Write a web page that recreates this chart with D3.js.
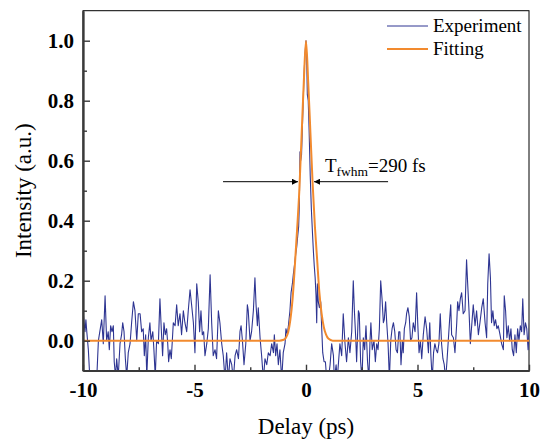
<!DOCTYPE html>
<html>
<head>
<meta charset="utf-8">
<script src="https://cdn.jsdelivr.net/npm/d3@7"></script>
<style>
  body { margin: 0; background: #fff; }
  svg { display: block; font-family: "Liberation Serif", "Times New Roman", serif; }
</style>
</head>
<body>
<div id="chart"></div>
<script>
// measured autocorrelation trace, [delay (ps), intensity (a.u.)]
const experiment = [
  [-10.0,0.10],[-9.95,0.06],[-9.91,0.03],[-9.87,0.07],[-9.83,0.03],[-9.76,-0.03],[-9.69,-0.13],[-9.55,-0.13],
  [-9.46,-0.12],[-9.38,-0.12],[-9.31,0.00],[-9.16,0.07],[-9.09,-0.01],[-9.01,0.15],[-8.94,0.00],[-8.87,0.03],
  [-8.82,-0.03],[-8.76,0.05],[-8.70,0.03],[-8.64,0.05],[-8.60,-0.07],[-8.54,-0.12],[-8.49,-0.06],[-8.42,-0.12],
  [-8.34,-0.01],[-8.27,0.02],[-8.22,0.06],[-8.16,0.03],[-8.10,-0.06],[-8.04,-0.12],[-7.97,-0.04],[-7.89,-0.01],
  [-7.82,0.06],[-7.74,0.13],[-7.67,0.10],[-7.59,0.00],[-7.52,0.09],[-7.44,0.09],[-7.37,0.03],[-7.30,0.04],
  [-7.25,-0.05],[-7.19,0.02],[-7.14,-0.12],[-7.07,0.01],[-7.00,0.06],[-6.95,0.00],[-6.87,0.03],[-6.82,-0.03],
  [-6.76,-0.12],[-6.70,0.00],[-6.62,-0.01],[-6.55,0.14],[-6.49,0.04],[-6.43,-0.05],[-6.37,0.06],[-6.31,0.02],
  [-6.25,0.04],[-6.20,-0.01],[-6.16,-0.07],[-6.10,-0.03],[-6.04,-0.06],[-5.95,0.06],[-5.87,0.05],[-5.80,0.12],
  [-5.73,0.05],[-5.65,0.09],[-5.58,0.02],[-5.50,0.10],[-5.43,0.06],[-5.35,0.03],[-5.28,0.10],[-5.20,0.17],
  [-5.13,0.12],[-5.05,0.06],[-4.98,-0.04],[-4.90,0.19],[-4.83,0.13],[-4.77,0.03],[-4.71,0.10],[-4.65,0.02],
  [-4.59,0.03],[-4.53,-0.05],[-4.45,-0.01],[-4.38,0.04],[-4.30,0.22],[-4.23,0.06],[-4.16,-0.05],[-4.08,-0.03],
  [-4.01,-0.06],[-3.93,0.10],[-3.86,0.06],[-3.78,-0.01],[-3.71,-0.05],[-3.63,-0.13],[-3.56,-0.04],[-3.48,-0.13],
  [-3.41,-0.06],[-3.33,-0.08],[-3.26,-0.13],[-3.18,-0.05],[-3.11,-0.03],[-3.03,-0.06],[-2.96,0.03],[-2.91,0.05],
  [-2.85,0.00],[-2.78,-0.08],[-2.70,-0.01],[-2.63,0.12],[-2.59,0.10],[-2.51,0.00],[-2.44,0.03],[-2.36,0.10],
  [-2.29,0.21],[-2.24,0.12],[-2.18,0.05],[-2.14,0.11],[-2.06,0.01],[-1.99,-0.05],[-1.91,-0.13],[-1.84,-0.06],
  [-1.76,-0.08],[-1.69,-0.04],[-1.61,-0.05],[-1.54,-0.01],[-1.46,-0.04],[-1.42,0.02],[-1.36,-0.05],[-1.30,-0.01],
  [-1.24,-0.08],[-1.17,-0.03],[-1.09,-0.13],[-1.02,-0.04],[-0.94,-0.01],[-0.90,0.04],[-0.84,0.02],[-0.79,0.05],
  [-0.72,0.10],[-0.67,0.16],[-0.61,0.19],[-0.57,0.22],[-0.52,0.25],[-0.46,0.29],[-0.42,0.31],[-0.37,0.35],
  [-0.33,0.38],[-0.30,0.45],[-0.27,0.63],[-0.24,0.60],[-0.20,0.62],[-0.15,0.74],[-0.10,0.86],[-0.05,0.95],
  [0.00,1.00],[0.03,0.95],[0.06,0.82],[0.10,0.80],[0.14,0.70],[0.19,0.55],[0.24,0.44],[0.29,0.36],
  [0.33,0.30],[0.37,0.25],[0.41,0.21],[0.45,0.15],[0.48,0.06],[0.51,0.19],[0.55,0.13],[0.60,0.11],
  [0.66,0.13],[0.70,0.05],[0.75,-0.04],[0.81,-0.07],[0.87,-0.07],[0.93,-0.13],[1.00,-0.13],[1.08,-0.08],
  [1.15,-0.01],[1.23,-0.05],[1.27,-0.13],[1.35,-0.08],[1.40,-0.13],[1.52,-0.01],[1.60,-0.05],[1.67,0.09],
  [1.75,-0.01],[1.82,-0.07],[1.90,0.01],[1.97,-0.04],[2.05,0.03],[2.12,0.20],[2.17,0.10],[2.23,0.01],
  [2.27,-0.07],[2.35,0.10],[2.39,0.09],[2.45,-0.07],[2.51,-0.13],[2.57,0.01],[2.63,-0.03],[2.69,0.05],
  [2.76,-0.07],[2.82,-0.13],[2.87,0.00],[2.91,0.06],[2.97,-0.03],[3.05,0.00],[3.11,-0.07],[3.17,-0.01],
  [3.23,-0.03],[3.29,0.04],[3.35,0.20],[3.41,0.14],[3.47,0.06],[3.51,0.07],[3.57,0.13],[3.62,0.06],
  [3.68,-0.01],[3.74,-0.13],[3.80,0.00],[3.86,0.04],[3.92,0.06],[3.98,0.03],[4.04,-0.03],[4.10,-0.04],
  [4.16,0.03],[4.21,0.03],[4.26,-0.08],[4.32,0.00],[4.36,-0.04],[4.41,0.04],[4.47,0.06],[4.51,0.09],
  [4.57,0.11],[4.63,0.08],[4.69,0.00],[4.75,0.01],[4.81,0.06],[4.89,0.03],[4.96,0.16],[5.01,0.06],
  [5.07,-0.04],[5.13,0.00],[5.19,-0.06],[5.26,0.02],[5.34,0.08],[5.41,0.04],[5.49,-0.04],[5.55,0.06],
  [5.60,-0.05],[5.66,-0.13],[5.72,-0.04],[5.78,-0.01],[5.84,-0.03],[5.90,-0.04],[5.96,-0.01],[6.02,0.09],
  [6.08,-0.01],[6.14,-0.06],[6.20,-0.08],[6.26,-0.13],[6.32,-0.07],[6.38,0.00],[6.44,0.07],[6.49,0.12],
  [6.53,0.02],[6.61,0.01],[6.68,-0.04],[6.76,0.06],[6.80,0.13],[6.86,0.10],[6.92,0.14],[6.98,0.16],
  [7.05,0.09],[7.13,0.10],[7.20,0.27],[7.25,0.19],[7.31,0.10],[7.37,-0.01],[7.43,0.05],[7.50,0.12],
  [7.58,0.05],[7.65,0.10],[7.73,0.02],[7.80,0.06],[7.88,0.11],[7.95,0.14],[8.03,0.06],[8.10,0.01],
  [8.15,0.19],[8.21,0.29],[8.27,0.21],[8.32,0.06],[8.38,0.10],[8.44,0.05],[8.50,0.07],[8.56,0.04],
  [8.62,0.05],[8.70,0.02],[8.77,-0.01],[8.85,-0.03],[8.89,0.15],[8.95,0.10],[9.01,0.01],[9.07,0.05],
  [9.13,0.00],[9.19,0.04],[9.25,-0.03],[9.31,-0.05],[9.37,0.02],[9.43,-0.04],[9.49,0.04],[9.55,0.00],
  [9.61,0.05],[9.67,0.03],[9.72,0.14],[9.78,0.02],[9.84,0.06],[9.90,0.04],[9.96,-0.03],[10.03,0.07],
  [10.09,-0.04]
];

// fitted curve, [delay (ps), intensity (a.u.)]
const fitting = [
  [-10,0],[-1.2,0],[-1.0,0.003],[-0.9,0.01],[-0.8,0.028],[-0.7,0.07],[-0.6,0.14],[-0.5,0.25],
  [-0.4,0.37],[-0.3,0.5],[-0.2,0.68],[-0.1,0.86],[0,1.0],[0.1,0.86],[0.2,0.69],[0.3,0.52],
  [0.4,0.38],[0.5,0.27],[0.6,0.16],[0.7,0.09],[0.8,0.045],[0.9,0.02],[1.0,0.007],[1.2,0],[10,0]
];

const seriesNames = ["Experiment", "Fitting"];
const seriesColors = ["#2e3592", "#f28a2e"];

const xTicks = [-10, -5, 0, 5, 10];
const xMinorTicks = [-7.5, -2.5, 2.5, 7.5];
const yTicks = [0, 0.2, 0.4, 0.6, 0.8, 1.0];
const yMinorTicks = [0.1, 0.3, 0.5, 0.7, 0.9];

const xDomain = [-10, 10];
const yDomain = [-0.1, 1.1];

// FWHM arrows and label, in data units
const fwhmArrows = [[-3.72, -0.36], [3.68, 0.36]];
const fwhmY = 0.53;
const fwhmLabel = { x: 0.85, y: 0.561, main: "T", sub: "fwhm", rest: "=290 fs" };

const serif = "Liberation Serif";
const width = 540, height = 439;
const plot = { left: 83, right: 529, top: 10.7, bottom: 370.7 };

const svg = d3.select("#chart").append("svg")
  .attr("width", width).attr("height", height)
  .attr("font-family", serif);

const x = d3.scaleLinear().domain(xDomain).range([plot.left, plot.right]);
const y = d3.scaleLinear().domain(yDomain).range([plot.bottom, plot.top]);

const defs = svg.append("defs");
defs.append("clipPath").attr("id", "clip")
  .append("rect")
  .attr("x", plot.left).attr("y", plot.top)
  .attr("width", plot.right - plot.left).attr("height", plot.bottom - plot.top);

defs.append("marker")
  .attr("id", "head")
  .attr("viewBox", "0 0 10 10")
  .attr("refX", 10).attr("refY", 5)
  .attr("markerWidth", 10).attr("markerHeight", 6)
  .attr("markerUnits", "userSpaceOnUse")
  .attr("orient", "auto")
  .append("path").attr("d", "M0,0 L10,5 L0,10 z").attr("fill", "#000");

// frame (top + right thin lines)
svg.append("rect")
  .attr("x", plot.left).attr("y", plot.top)
  .attr("width", plot.right - plot.left).attr("height", plot.bottom - plot.top)
  .attr("fill", "none").attr("stroke", "#000").attr("stroke-width", 1);

const line = d3.line().x(d => x(d[0])).y(d => y(d[1]));

const data = svg.append("g").attr("clip-path", "url(#clip)");
data.append("path")
  .datum(experiment)
  .attr("d", line)
  .attr("fill", "none")
  .attr("stroke", seriesColors[0])
  .attr("stroke-width", 1.1)
  .attr("stroke-linejoin", "round");

data.append("path")
  .datum(fitting)
  .attr("d", line.curve(d3.curveMonotoneX))
  .attr("fill", "none")
  .attr("stroke", seriesColors[1])
  .attr("stroke-width", 2)
  .attr("stroke-linejoin", "round");

// axes
const xAxis = d3.axisBottom(x).tickValues(xTicks).tickSize(-6).tickSizeOuter(0)
  .tickPadding(11).tickFormat(d => String(d));
const xMinor = d3.axisBottom(x).tickValues(xMinorTicks).tickSize(-3.5).tickSizeOuter(0).tickFormat("");
const yAxis = d3.axisLeft(y).tickValues(yTicks).tickSize(-7).tickSizeOuter(0)
  .tickPadding(9).tickFormat(d3.format(".1f"));
const yMinor = d3.axisLeft(y).tickValues(yMinorTicks).tickSize(-4).tickSizeOuter(0).tickFormat("");

function styleAxis(g) {
  g.attr("font-family", serif).attr("font-size", 21).attr("font-weight", "bold");
  g.select(".domain").attr("stroke", "#3a3a3a").attr("stroke-width", 1.8);
  g.selectAll(".tick line").attr("stroke", "#3a3a3a").attr("stroke-width", 1.4);
  g.selectAll(".tick text").attr("fill", "#000");
}

svg.append("g").attr("transform", `translate(0,${plot.bottom})`).call(xMinor).call(styleAxis);
svg.append("g").attr("transform", `translate(0,${plot.bottom})`).call(xAxis).call(styleAxis);
svg.append("g").attr("transform", `translate(${plot.left},0)`).call(yMinor).call(styleAxis);
svg.append("g").attr("transform", `translate(${plot.left},0)`).call(yAxis).call(styleAxis);

// axis titles
svg.append("text")
  .attr("x", (plot.left + plot.right) / 2).attr("y", 434)
  .attr("text-anchor", "middle")
  .attr("font-size", 23)
  .text("Delay (ps)");

svg.append("text")
  .attr("transform", `translate(31,${(plot.top + plot.bottom) / 2}) rotate(-90)`)
  .attr("text-anchor", "middle")
  .attr("font-size", 23)
  .text("Intensity (a.u.)");

// FWHM annotation
fwhmArrows.forEach(a => {
  svg.append("line")
    .attr("x1", x(a[0])).attr("y1", y(fwhmY))
    .attr("x2", x(a[1])).attr("y2", y(fwhmY))
    .attr("stroke", "#000").attr("stroke-width", 1)
    .attr("marker-end", "url(#head)");
});

const lbl = svg.append("text")
  .attr("x", x(fwhmLabel.x)).attr("y", y(fwhmLabel.y))
  .attr("font-size", 19);
lbl.append("tspan").text(fwhmLabel.main);
lbl.append("tspan").attr("dy", 4).attr("font-size", 13.5).text(fwhmLabel.sub);
lbl.append("tspan").attr("dy", -4).text(fwhmLabel.rest);

// legend
const legend = svg.append("g").attr("transform", "translate(387,26)");
seriesNames.forEach((name, i) => {
  const row = legend.append("g").attr("transform", `translate(0,${i * 23})`);
  row.append("line")
    .attr("x1", 0).attr("x2", 41).attr("y1", 0).attr("y2", 0)
    .attr("stroke", seriesColors[i])
    .attr("stroke-width", i === 0 ? 1 : 2);
  row.append("text")
    .attr("x", 46).attr("y", 6)
    .attr("font-size", 19)
    .text(name);
});
</script>
</body>
</html>
